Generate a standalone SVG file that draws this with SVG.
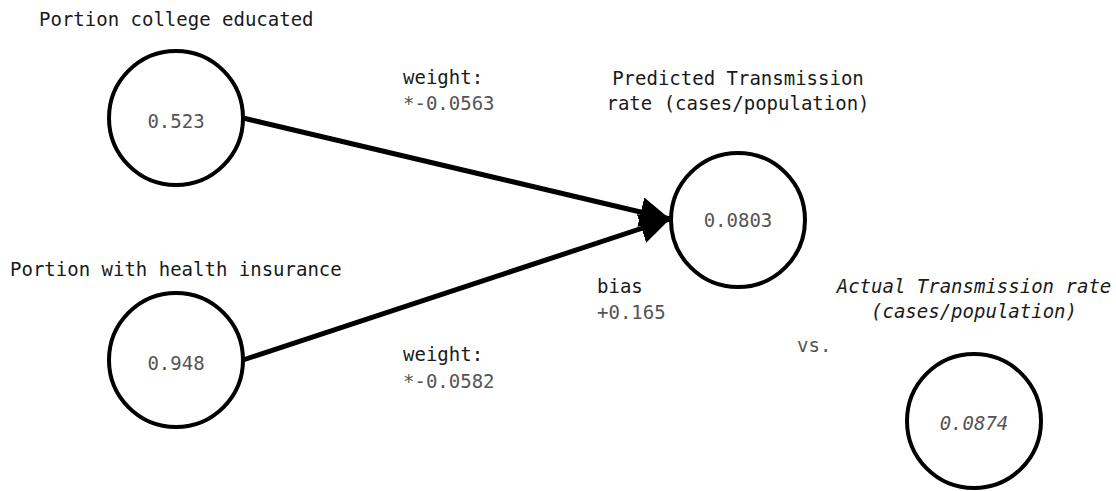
<svg xmlns="http://www.w3.org/2000/svg" width="1116" height="491" viewBox="0 0 1116 491">
<style>
.node{fill:#fff;stroke:#000;stroke-width:4}
.lbl{font-family:"DejaVu Sans Mono","Liberation Mono",monospace;font-size:19px;fill:#1a1a1a}
.val{font-family:"DejaVu Sans Mono","Liberation Mono",monospace;font-size:19px;fill:#555}
.edge{stroke:#000;stroke-width:5;fill:none}
</style>
<defs>
<marker id="arr" markerWidth="6" markerHeight="6" refX="6" refY="3" orient="auto" markerUnits="strokeWidth">
<path d="M0,0 L6,3 L0,6 Z" fill="#000"/>
</marker>
</defs>
<rect width="1116" height="491" fill="#fff"/>
<g id="connectors">
<line class="edge" x1="243" y1="118" x2="670" y2="219" marker-end="url(#arr)"/>
<line class="edge" x1="243" y1="360" x2="670" y2="219" marker-end="url(#arr)"/>
</g>
<g id="college">
<text class="lbl" x="39" y="26">Portion college educated</text>
<circle class="node" cx="176" cy="118" r="67"/>
<text class="val" x="176" y="128" text-anchor="middle">0.523</text>
</g>
<g id="insurance">
<text class="lbl" x="10" y="276">Portion with health insurance</text>
<circle class="node" cx="176" cy="360" r="67"/>
<text class="val" x="176" y="370" text-anchor="middle">0.948</text>
</g>
<g id="weight1">
<text class="lbl" x="403" y="84">weight:</text>
<text class="val" x="403" y="110">*-0.0563</text>
</g>
<g id="weight2">
<text class="lbl" x="403" y="361">weight:</text>
<text class="val" x="403" y="388">*-0.0582</text>
</g>
<g id="predicted">
<text class="lbl" x="738" y="85" text-anchor="middle">Predicted Transmission</text>
<text class="lbl" x="738" y="110" text-anchor="middle">rate (cases/population)</text>
<circle class="node" cx="738" cy="220" r="67"/>
<text class="val" x="738" y="227" text-anchor="middle">0.0803</text>
</g>
<g id="bias">
<text class="lbl" x="597" y="293">bias</text>
<text class="val" x="597" y="319">+0.165</text>
</g>
<g id="vs">
<text class="val" x="797" y="352">vs.</text>
</g>
<g id="actual">
<text class="lbl" x="974" y="293" text-anchor="middle" font-style="italic">Actual Transmission rate</text>
<text class="lbl" x="974" y="318" text-anchor="middle" font-style="italic">(cases/population)</text>
<circle class="node" cx="974" cy="421" r="67"/>
<text class="val" x="974" y="430" text-anchor="middle" font-style="italic">0.0874</text>
</g>
</svg>
